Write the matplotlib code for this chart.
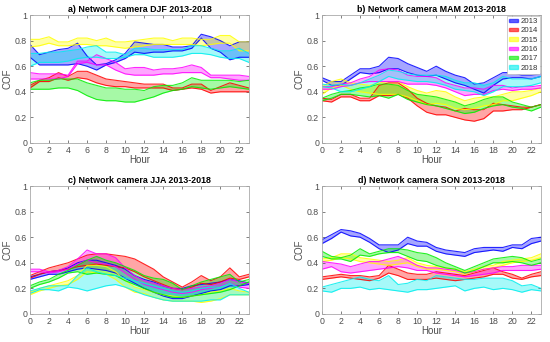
import matplotlib.pyplot as plt
import matplotlib.patches as mpatches
import numpy as np

hours = np.arange(24)
years = ['2013', '2014', '2015', '2016', '2017', '2018']
colors = ['#0000ff', '#ff0000', '#ffff00', '#ff00ff', '#00ee00', '#00eeee']

# DJF - lower / upper edges of each band
djf_2013_lo = [0.67, 0.61, 0.61, 0.61, 0.61, 0.62, 0.60, 0.57, 0.61, 0.63, 0.66, 0.71, 0.70, 0.71, 0.71, 0.72, 0.72, 0.74, 0.82, 0.74, 0.71, 0.65, 0.67, 0.67]
djf_2013_hi = [0.77, 0.69, 0.71, 0.73, 0.74, 0.78, 0.68, 0.61, 0.62, 0.65, 0.70, 0.79, 0.78, 0.77, 0.77, 0.75, 0.75, 0.76, 0.85, 0.83, 0.80, 0.76, 0.79, 0.79]
djf_2014_lo = [0.43, 0.48, 0.48, 0.51, 0.49, 0.51, 0.50, 0.47, 0.45, 0.44, 0.44, 0.43, 0.43, 0.43, 0.43, 0.41, 0.42, 0.43, 0.42, 0.39, 0.40, 0.40, 0.40, 0.40]
djf_2014_hi = [0.45, 0.49, 0.51, 0.55, 0.52, 0.56, 0.56, 0.53, 0.50, 0.49, 0.48, 0.47, 0.46, 0.46, 0.46, 0.43, 0.43, 0.46, 0.46, 0.41, 0.44, 0.47, 0.45, 0.43]
djf_2015_lo = [0.75, 0.76, 0.78, 0.76, 0.76, 0.77, 0.77, 0.76, 0.76, 0.75, 0.74, 0.75, 0.76, 0.77, 0.77, 0.77, 0.77, 0.77, 0.76, 0.77, 0.78, 0.78, 0.72, 0.72]
djf_2015_hi = [0.81, 0.81, 0.83, 0.79, 0.79, 0.82, 0.82, 0.80, 0.82, 0.79, 0.79, 0.80, 0.81, 0.82, 0.82, 0.80, 0.82, 0.82, 0.81, 0.81, 0.84, 0.84, 0.79, 0.79]
djf_2016_lo = [0.50, 0.50, 0.50, 0.50, 0.52, 0.62, 0.63, 0.61, 0.61, 0.57, 0.54, 0.53, 0.53, 0.53, 0.54, 0.54, 0.55, 0.55, 0.55, 0.51, 0.51, 0.50, 0.49, 0.49]
djf_2016_hi = [0.55, 0.54, 0.54, 0.54, 0.53, 0.64, 0.64, 0.69, 0.66, 0.63, 0.58, 0.59, 0.59, 0.57, 0.58, 0.58, 0.59, 0.61, 0.59, 0.53, 0.53, 0.53, 0.53, 0.52]
djf_2017_lo = [0.42, 0.42, 0.42, 0.43, 0.43, 0.41, 0.37, 0.34, 0.33, 0.33, 0.32, 0.32, 0.34, 0.36, 0.39, 0.41, 0.42, 0.44, 0.43, 0.42, 0.43, 0.44, 0.43, 0.42]
djf_2017_hi = [0.47, 0.49, 0.49, 0.50, 0.50, 0.50, 0.47, 0.45, 0.43, 0.43, 0.42, 0.42, 0.41, 0.44, 0.45, 0.45, 0.47, 0.51, 0.49, 0.49, 0.49, 0.49, 0.48, 0.49]
djf_2018_lo = [0.60, 0.63, 0.63, 0.63, 0.64, 0.66, 0.67, 0.67, 0.66, 0.66, 0.67, 0.69, 0.69, 0.67, 0.67, 0.67, 0.68, 0.70, 0.70, 0.69, 0.67, 0.66, 0.66, 0.63]
djf_2018_hi = [0.70, 0.70, 0.71, 0.71, 0.72, 0.73, 0.75, 0.76, 0.71, 0.71, 0.69, 0.74, 0.74, 0.73, 0.73, 0.73, 0.73, 0.76, 0.76, 0.74, 0.72, 0.72, 0.74, 0.70]

# MAM
mam_2013_lo = [0.49, 0.45, 0.45, 0.50, 0.55, 0.54, 0.55, 0.58, 0.58, 0.55, 0.53, 0.52, 0.53, 0.50, 0.47, 0.45, 0.42, 0.39, 0.45, 0.50, 0.51, 0.51, 0.50, 0.52]
mam_2013_hi = [0.51, 0.48, 0.48, 0.53, 0.58, 0.58, 0.60, 0.67, 0.66, 0.62, 0.59, 0.56, 0.60, 0.56, 0.53, 0.51, 0.46, 0.47, 0.51, 0.55, 0.55, 0.53, 0.53, 0.54]
mam_2014_lo = [0.33, 0.32, 0.36, 0.36, 0.33, 0.33, 0.37, 0.37, 0.38, 0.35, 0.29, 0.24, 0.22, 0.22, 0.20, 0.18, 0.17, 0.19, 0.25, 0.25, 0.26, 0.26, 0.28, 0.30]
mam_2014_hi = [0.35, 0.34, 0.38, 0.38, 0.35, 0.35, 0.45, 0.47, 0.47, 0.42, 0.35, 0.31, 0.29, 0.28, 0.25, 0.27, 0.26, 0.26, 0.31, 0.30, 0.29, 0.28, 0.28, 0.30]
mam_2015_lo = [0.38, 0.43, 0.45, 0.42, 0.40, 0.39, 0.38, 0.38, 0.38, 0.36, 0.33, 0.30, 0.31, 0.30, 0.27, 0.26, 0.27, 0.29, 0.30, 0.33, 0.33, 0.35, 0.37, 0.40]
mam_2015_hi = [0.44, 0.48, 0.50, 0.47, 0.46, 0.45, 0.47, 0.48, 0.48, 0.44, 0.41, 0.39, 0.41, 0.40, 0.36, 0.33, 0.35, 0.36, 0.36, 0.38, 0.40, 0.40, 0.41, 0.43]
mam_2016_lo = [0.42, 0.42, 0.44, 0.45, 0.47, 0.48, 0.48, 0.48, 0.48, 0.46, 0.46, 0.46, 0.45, 0.43, 0.40, 0.37, 0.38, 0.38, 0.41, 0.42, 0.41, 0.42, 0.42, 0.43]
mam_2016_hi = [0.44, 0.44, 0.46, 0.47, 0.50, 0.52, 0.57, 0.58, 0.57, 0.53, 0.52, 0.52, 0.51, 0.47, 0.45, 0.43, 0.43, 0.42, 0.45, 0.45, 0.43, 0.44, 0.44, 0.45]
mam_2017_lo = [0.33, 0.35, 0.38, 0.38, 0.37, 0.36, 0.37, 0.35, 0.38, 0.34, 0.32, 0.30, 0.29, 0.27, 0.25, 0.23, 0.24, 0.27, 0.29, 0.30, 0.28, 0.27, 0.25, 0.28]
mam_2017_hi = [0.35, 0.38, 0.40, 0.41, 0.43, 0.44, 0.46, 0.46, 0.45, 0.41, 0.38, 0.37, 0.36, 0.34, 0.32, 0.29, 0.31, 0.34, 0.36, 0.36, 0.32, 0.30, 0.28, 0.30]
mam_2018_lo = [0.44, 0.43, 0.40, 0.40, 0.42, 0.44, 0.48, 0.52, 0.50, 0.49, 0.48, 0.48, 0.47, 0.45, 0.42, 0.41, 0.40, 0.37, 0.40, 0.44, 0.44, 0.44, 0.45, 0.47]
mam_2018_hi = [0.46, 0.45, 0.46, 0.45, 0.47, 0.50, 0.53, 0.57, 0.56, 0.54, 0.53, 0.53, 0.53, 0.52, 0.49, 0.47, 0.47, 0.45, 0.47, 0.52, 0.50, 0.50, 0.50, 0.52]

# JJA
jja_2013_lo = [0.27, 0.29, 0.31, 0.31, 0.33, 0.35, 0.36, 0.35, 0.34, 0.32, 0.28, 0.24, 0.20, 0.17, 0.14, 0.12, 0.12, 0.14, 0.16, 0.18, 0.19, 0.22, 0.22, 0.23]
jja_2013_hi = [0.29, 0.31, 0.33, 0.34, 0.36, 0.40, 0.42, 0.42, 0.40, 0.38, 0.35, 0.30, 0.27, 0.25, 0.22, 0.20, 0.20, 0.22, 0.23, 0.24, 0.25, 0.27, 0.26, 0.24]
jja_2014_lo = [0.28, 0.31, 0.33, 0.34, 0.35, 0.37, 0.38, 0.39, 0.38, 0.37, 0.36, 0.33, 0.29, 0.26, 0.23, 0.20, 0.19, 0.21, 0.24, 0.23, 0.25, 0.28, 0.27, 0.29]
jja_2014_hi = [0.30, 0.33, 0.36, 0.38, 0.40, 0.43, 0.46, 0.47, 0.47, 0.46, 0.45, 0.43, 0.39, 0.35, 0.29, 0.25, 0.21, 0.25, 0.30, 0.26, 0.29, 0.36, 0.29, 0.31]
jja_2015_lo = [0.15, 0.18, 0.20, 0.22, 0.23, 0.27, 0.33, 0.32, 0.31, 0.27, 0.21, 0.17, 0.16, 0.13, 0.11, 0.10, 0.10, 0.10, 0.09, 0.10, 0.12, 0.15, 0.15, 0.15]
jja_2015_hi = [0.17, 0.20, 0.22, 0.24, 0.26, 0.30, 0.38, 0.38, 0.37, 0.33, 0.26, 0.21, 0.19, 0.17, 0.15, 0.14, 0.13, 0.14, 0.15, 0.17, 0.18, 0.20, 0.18, 0.17]
jja_2016_lo = [0.33, 0.33, 0.32, 0.33, 0.35, 0.39, 0.42, 0.40, 0.39, 0.37, 0.32, 0.27, 0.23, 0.21, 0.19, 0.17, 0.16, 0.17, 0.19, 0.20, 0.22, 0.24, 0.21, 0.20]
jja_2016_hi = [0.35, 0.35, 0.33, 0.34, 0.37, 0.43, 0.50, 0.47, 0.47, 0.44, 0.36, 0.30, 0.26, 0.24, 0.22, 0.20, 0.19, 0.20, 0.21, 0.22, 0.24, 0.27, 0.25, 0.24]
jja_2017_lo = [0.20, 0.23, 0.25, 0.28, 0.32, 0.33, 0.31, 0.32, 0.31, 0.30, 0.26, 0.23, 0.20, 0.17, 0.15, 0.13, 0.13, 0.14, 0.15, 0.16, 0.17, 0.19, 0.22, 0.25]
jja_2017_hi = [0.22, 0.25, 0.27, 0.31, 0.34, 0.38, 0.42, 0.45, 0.42, 0.40, 0.37, 0.34, 0.30, 0.28, 0.27, 0.24, 0.19, 0.22, 0.25, 0.27, 0.29, 0.31, 0.25, 0.27]
jja_2018_lo = [0.16, 0.19, 0.19, 0.18, 0.21, 0.20, 0.18, 0.20, 0.22, 0.23, 0.21, 0.18, 0.15, 0.13, 0.11, 0.10, 0.10, 0.10, 0.10, 0.11, 0.11, 0.15, 0.15, 0.15]
jja_2018_hi = [0.18, 0.20, 0.22, 0.22, 0.22, 0.30, 0.36, 0.33, 0.31, 0.30, 0.28, 0.26, 0.24, 0.22, 0.20, 0.18, 0.17, 0.18, 0.20, 0.21, 0.21, 0.24, 0.20, 0.17]

# SON
son_2013_lo = [0.55, 0.59, 0.64, 0.61, 0.60, 0.56, 0.51, 0.48, 0.50, 0.55, 0.53, 0.53, 0.49, 0.47, 0.46, 0.45, 0.48, 0.49, 0.50, 0.49, 0.52, 0.51, 0.55, 0.57]
son_2013_hi = [0.58, 0.62, 0.66, 0.65, 0.63, 0.59, 0.54, 0.54, 0.54, 0.60, 0.57, 0.56, 0.52, 0.50, 0.49, 0.48, 0.51, 0.52, 0.52, 0.52, 0.54, 0.54, 0.59, 0.60]
son_2014_lo = [0.27, 0.28, 0.29, 0.28, 0.27, 0.26, 0.28, 0.32, 0.30, 0.27, 0.27, 0.27, 0.28, 0.27, 0.26, 0.27, 0.28, 0.29, 0.31, 0.31, 0.28, 0.27, 0.29, 0.30]
son_2014_hi = [0.29, 0.30, 0.31, 0.30, 0.30, 0.29, 0.30, 0.38, 0.35, 0.32, 0.31, 0.31, 0.33, 0.32, 0.31, 0.30, 0.32, 0.34, 0.36, 0.33, 0.31, 0.28, 0.31, 0.33]
son_2015_lo = [0.41, 0.42, 0.44, 0.43, 0.41, 0.40, 0.39, 0.38, 0.39, 0.40, 0.37, 0.35, 0.35, 0.34, 0.33, 0.31, 0.33, 0.35, 0.36, 0.38, 0.40, 0.41, 0.42, 0.44]
son_2015_hi = [0.43, 0.44, 0.47, 0.47, 0.44, 0.43, 0.42, 0.41, 0.42, 0.44, 0.40, 0.38, 0.37, 0.36, 0.35, 0.33, 0.35, 0.37, 0.38, 0.41, 0.42, 0.43, 0.44, 0.47]
son_2016_lo = [0.35, 0.37, 0.33, 0.32, 0.33, 0.34, 0.35, 0.36, 0.37, 0.36, 0.34, 0.34, 0.32, 0.31, 0.30, 0.29, 0.30, 0.31, 0.32, 0.34, 0.34, 0.34, 0.34, 0.35]
son_2016_hi = [0.41, 0.40, 0.39, 0.37, 0.39, 0.41, 0.41, 0.43, 0.45, 0.42, 0.38, 0.36, 0.36, 0.35, 0.34, 0.32, 0.33, 0.35, 0.36, 0.37, 0.37, 0.38, 0.38, 0.38]
son_2017_lo = [0.45, 0.43, 0.43, 0.41, 0.46, 0.45, 0.47, 0.48, 0.48, 0.45, 0.42, 0.41, 0.38, 0.36, 0.35, 0.32, 0.34, 0.37, 0.40, 0.40, 0.41, 0.40, 0.38, 0.40]
son_2017_hi = [0.49, 0.45, 0.44, 0.46, 0.51, 0.47, 0.49, 0.51, 0.51, 0.50, 0.48, 0.47, 0.44, 0.40, 0.37, 0.34, 0.37, 0.40, 0.43, 0.44, 0.45, 0.44, 0.41, 0.43]
son_2018_lo = [0.18, 0.17, 0.20, 0.20, 0.21, 0.19, 0.20, 0.19, 0.18, 0.17, 0.19, 0.19, 0.20, 0.21, 0.22, 0.18, 0.20, 0.21, 0.19, 0.20, 0.19, 0.17, 0.19, 0.18]
son_2018_hi = [0.21, 0.23, 0.25, 0.27, 0.29, 0.27, 0.26, 0.30, 0.23, 0.24, 0.27, 0.26, 0.30, 0.29, 0.28, 0.27, 0.27, 0.28, 0.28, 0.28, 0.26, 0.22, 0.23, 0.20]

panels = [
    ('a) Network camera DJF 2013-2018',
     [(djf_2013_lo, djf_2013_hi), (djf_2014_lo, djf_2014_hi), (djf_2015_lo, djf_2015_hi),
      (djf_2016_lo, djf_2016_hi), (djf_2017_lo, djf_2017_hi), (djf_2018_lo, djf_2018_hi)]),
    ('b) Network camera MAM 2013-2018',
     [(mam_2013_lo, mam_2013_hi), (mam_2014_lo, mam_2014_hi), (mam_2015_lo, mam_2015_hi),
      (mam_2016_lo, mam_2016_hi), (mam_2017_lo, mam_2017_hi), (mam_2018_lo, mam_2018_hi)]),
    ('c) Network camera JJA 2013-2018',
     [(jja_2013_lo, jja_2013_hi), (jja_2014_lo, jja_2014_hi), (jja_2015_lo, jja_2015_hi),
      (jja_2016_lo, jja_2016_hi), (jja_2017_lo, jja_2017_hi), (jja_2018_lo, jja_2018_hi)]),
    ('d) Network camera SON 2013-2018',
     [(son_2013_lo, son_2013_hi), (son_2014_lo, son_2014_hi), (son_2015_lo, son_2015_hi),
      (son_2016_lo, son_2016_hi), (son_2017_lo, son_2017_hi), (son_2018_lo, son_2018_hi)]),
]

plt.rcParams['font.family'] = ['Liberation Sans', 'DejaVu Sans']

fig = plt.figure(figsize=(5.5, 3.42), dpi=100)
positions = [
    [0.0545, 0.582, 0.398, 0.374],
    [0.5855, 0.582, 0.398, 0.374],
    [0.0545, 0.082, 0.398, 0.374],
    [0.5855, 0.082, 0.398, 0.374],
]
axis_grey = '#4d4d4d'

for pos, (title, bands) in zip(positions, panels):
    ax = fig.add_axes(pos)
    for (lo, hi), c in zip(bands, colors):
        ax.fill_between(hours, lo, hi, color=c, alpha=0.35, linewidth=0)
        ax.plot(hours, lo, color=c, lw=0.8, alpha=0.85)
        ax.plot(hours, hi, color=c, lw=0.8, alpha=0.85)
    ax.set_xlim(0, 23)
    ax.set_ylim(0, 1)
    ax.set_xticks(np.arange(0, 23, 2))
    ax.set_yticks([0, 0.2, 0.4, 0.6, 0.8, 1])
    ax.set_yticklabels(['0', '0.2', '0.4', '0.6', '0.8', '1'])
    ax.tick_params(direction='in', length=2.5, width=0.5, labelsize=6.3,
                   colors=axis_grey, pad=2, top=True, right=True)
    for s in ax.spines.values():
        s.set_color('#aaaaaa')
        s.set_linewidth(0.6)
    ax.set_xlabel('Hour', fontsize=7, color=axis_grey, labelpad=0)
    ax.set_ylabel('COF', fontsize=7, color=axis_grey, labelpad=2)
    ax.set_title(title, fontsize=6.4, fontweight='bold', pad=2.5)
    if title.startswith('b)'):
        handles = [mpatches.Patch(facecolor=c, edgecolor=c, alpha=0.6, label=y)
                   for c, y in zip(colors, years)]
        leg = ax.legend(handles=handles, loc='upper right', fontsize=5.6,
                        handlelength=1.2, handleheight=0.25, handletextpad=0.25,
                        borderpad=0.25, labelspacing=0.3, fancybox=False,
                        framealpha=1, edgecolor='#bbbbbb', borderaxespad=0.15)
        leg.get_frame().set_linewidth(0.5)
        for t in leg.get_texts():
            t.set_color('#333333')

fig.savefig('out.png', dpi=100)
